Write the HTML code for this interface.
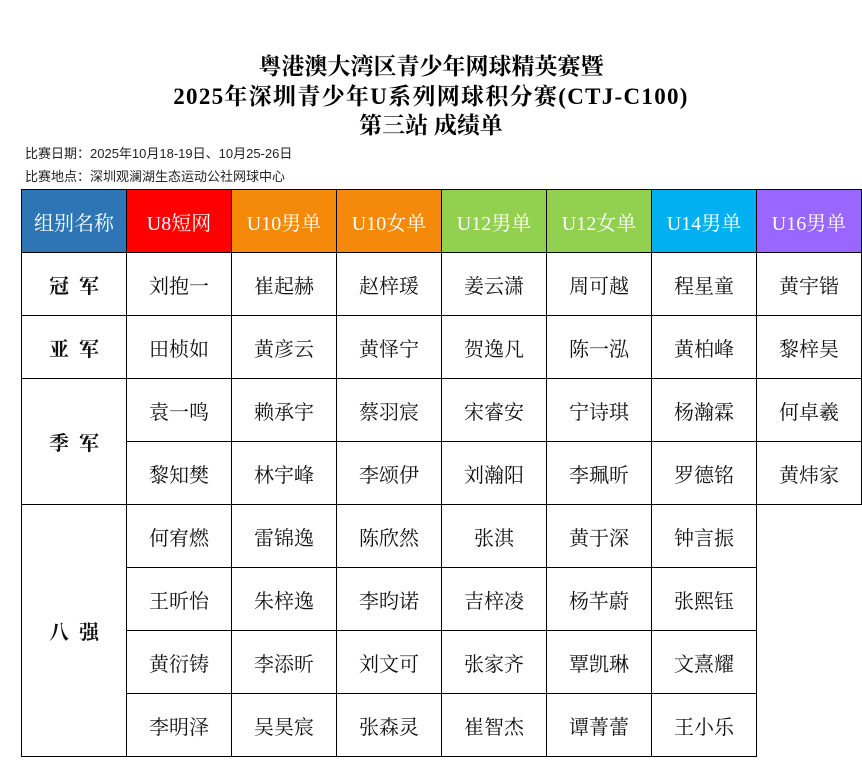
<!DOCTYPE html>
<html><head><meta charset="utf-8"><style>
body{margin:0;width:862px;height:776px;background:#fff;position:relative;overflow:hidden}
.t{position:absolute;left:0;width:862px;text-align:center;font-family:"Liberation Serif","Noto Serif CJK SC",serif;font-weight:bold;font-size:23px;color:#000;line-height:29px}
.info{position:absolute;left:25px;font-family:"Liberation Sans","Noto Sans CJK SC",sans-serif;font-size:13px;color:#222}
table{position:absolute;left:21px;top:189px;width:841px;border-collapse:collapse;table-layout:fixed;font-family:"Liberation Serif","Noto Serif CJK SC",serif}
td{height:62px;border:1px solid #000;text-align:center;font-size:20px;padding:0;color:#111;overflow:hidden;white-space:nowrap}
tr.h td{color:#fff;font-size:20px;font-weight:normal}
td.e{border:none}
td.g{font-weight:bold;letter-spacing:10px;padding-left:10px}
</style></head><body>
<div class="t" style="top:52px">粤港澳大湾区青少年网球精英赛暨</div>
<div class="t" style="top:82px;letter-spacing:1.3px">2025年深圳青少年U系列网球积分赛(CTJ-C100)</div>
<div class="t" style="top:111px">第三站 成绩单</div>
<div class="info" style="top:143px">比赛日期：2025年10月18-19日、10月25-26日</div>
<div class="info" style="top:166px">比赛地点：深圳观澜湖生态运动公社网球中心</div>
<table>
<colgroup><col style="width:105px"><col style="width:105px"><col style="width:105px"><col style="width:105px"><col style="width:105px"><col style="width:105px"><col style="width:105px"><col style="width:105px"></colgroup>
<tr class="h"><td style="background:#2E75B6">组别名称</td><td style="background:#FF0000">U8短网</td><td style="background:#F5890A">U10男单</td><td style="background:#F5890A">U10女单</td><td style="background:#92D050">U12男单</td><td style="background:#92D050">U12女单</td><td style="background:#00B0F0">U14男单</td><td style="background:#9966FF">U16男单</td></tr>
<tr><td class="g">冠军</td><td>刘抱一</td><td>崔起赫</td><td>赵梓瑗</td><td>姜云潇</td><td>周可越</td><td>程星童</td><td>黄宇锴</td></tr>
<tr><td class="g">亚军</td><td>田桢如</td><td>黄彦云</td><td>黄怿宁</td><td>贺逸凡</td><td>陈一泓</td><td>黄柏峰</td><td>黎梓昊</td></tr>
<tr><td class="g" rowspan="2">季军</td><td>袁一鸣</td><td>赖承宇</td><td>蔡羽宸</td><td>宋睿安</td><td>宁诗琪</td><td>杨瀚霖</td><td>何卓羲</td></tr>
<tr><td>黎知樊</td><td>林宇峰</td><td>李颂伊</td><td>刘瀚阳</td><td>李珮昕</td><td>罗德铭</td><td>黄炜家</td></tr>
<tr><td class="g" rowspan="4">八强</td><td>何宥燃</td><td>雷锦逸</td><td>陈欣然</td><td>张淇</td><td>黄于深</td><td>钟言振</td><td class="e"></td></tr>
<tr><td>王昕怡</td><td>朱梓逸</td><td>李昀诺</td><td>吉梓凌</td><td>杨芊蔚</td><td>张熙钰</td><td class="e"></td></tr>
<tr><td>黄衍铸</td><td>李添昕</td><td>刘文可</td><td>张家齐</td><td>覃凯琳</td><td>文熹耀</td><td class="e"></td></tr>
<tr><td>李明泽</td><td>吴昊宸</td><td>张森灵</td><td>崔智杰</td><td>谭菁蕾</td><td>王小乐</td><td class="e"></td></tr>
</table>
</body></html>
